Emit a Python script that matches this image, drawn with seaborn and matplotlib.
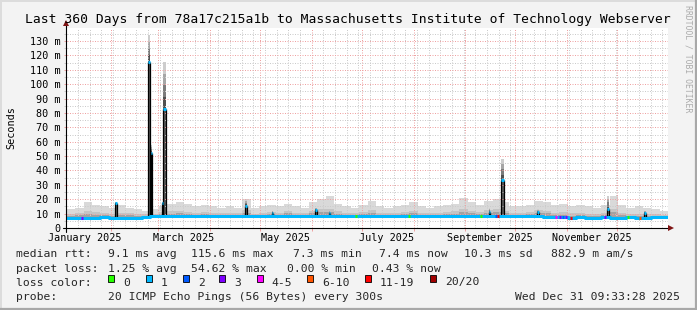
import numpy as np
import pandas as pd
import matplotlib
matplotlib.use("Agg")
import matplotlib.pyplot as plt
import matplotlib.dates as mdates
from matplotlib.ticker import MultipleLocator, FuncFormatter
from matplotlib.patches import Rectangle
from matplotlib.lines import Line2D
import seaborn as sns
from datetime import datetime

sns.set_style("white")
plt.rcParams["font.family"] = ["DejaVu Sans Mono", "DejaVu Sans"]

# ---------------- data ----------------
START = datetime(2025, 1, 5, 9, 33, 28)
END = datetime(2025, 12, 31, 9, 33, 28)
bin_start = pd.date_range(START, periods=72, freq="5D")

median_ms = [7.3, 7.2, 7.3, 7.3, 7.4, 7.3, 7.3, 7.2, 7.3, 7.4,
             8.0, 8.2, 8.1, 8.0, 8.1, 8.2, 8.1, 8.1, 8.0, 8.1,
             8.2, 8.1, 8.1, 8.2, 8.1, 8.0, 8.1, 8.1, 8.2, 8.1,
             8.1, 8.0, 8.1, 8.1, 8.2, 8.1, 8.1, 8.0, 8.1, 8.2,
             8.1, 8.1, 8.0, 8.1, 8.1, 8.2, 8.1, 8.1, 8.0, 8.1,
             8.1, 8.2, 8.1, 8.0, 8.1, 8.1, 8.0, 7.9, 7.5, 7.4,
             7.3, 7.4, 7.3, 7.3, 7.4, 7.3, 7.3, 7.4, 7.3, 7.3,
             7.4, 7.4]
smoke_lo = [6.9, 6.8, 6.9, 6.9, 7.0, 6.9, 6.9, 6.8, 6.9, 7.0,
            7.6, 7.7, 7.6, 7.6, 7.7, 7.7, 7.6, 7.6, 7.6, 7.6,
            7.7, 7.6, 7.6, 7.7, 7.6, 7.6, 7.6, 7.6, 7.7, 7.6,
            7.6, 7.6, 7.6, 7.6, 7.7, 7.6, 7.6, 7.6, 7.6, 7.7,
            7.6, 7.6, 7.6, 7.6, 7.6, 7.7, 7.6, 7.6, 7.6, 7.6,
            7.6, 7.7, 7.6, 7.6, 7.6, 7.6, 7.6, 7.5, 7.1, 7.0,
            6.9, 7.0, 6.9, 6.9, 7.0, 6.9, 6.9, 7.0, 6.9, 6.9,
            7.0, 7.0]
smoke_core = [8.6, 8.8, 9.4, 9.0, 8.8, 8.6, 9.0, 8.8, 8.5, 8.4,
              9.0, 9.4, 9.8, 10.2, 9.6, 9.2, 9.4, 9.2, 9.0, 9.2,
              9.0, 10.6, 8.9, 9.2, 9.6, 9.2, 10.4, 9.2, 9.0, 10.2,
              11.0, 11.4, 9.8, 9.2, 9.0, 9.6, 10.6, 9.2, 9.0, 9.2,
              9.6, 10.2, 9.2, 9.0, 9.2, 9.6, 9.8, 11.0, 10.2, 9.6,
              10.6, 11.0, 10.2, 9.2, 9.2, 9.6, 10.6, 10.2, 8.8, 9.2,
              8.6, 8.8, 8.5, 8.4, 8.8, 11.0, 8.8, 8.3, 8.5, 8.4,
              8.2, 8.1]
smoke_mid = [9.8, 10.2, 11.5, 10.8, 10.4, 10.0, 10.6, 10.2, 9.6, 9.4,
             10.0, 10.8, 11.6, 12.0, 11.4, 10.6, 11.0, 10.6, 10.2, 10.6,
             10.2, 12.5, 10.0, 10.6, 11.0, 10.6, 12.0, 10.6, 10.2, 12.0,
             13.0, 13.5, 11.6, 10.6, 10.2, 11.0, 12.5, 10.6, 10.2, 10.6,
             11.0, 12.0, 10.6, 10.2, 10.6, 11.0, 11.5, 13.0, 12.0, 11.0,
             12.5, 13.0, 12.0, 10.6, 10.6, 11.0, 12.5, 12.0, 10.6, 11.2,
             10.2, 10.6, 10.0, 9.8, 10.6, 13.0, 10.6, 9.6, 10.0, 9.8,
             9.4, 9.2]
smoke_hi = [13, 14, 18, 16, 15, 14, 16, 14, 13, 12,
            13, 15, 17, 18, 17, 15, 16, 15, 14, 15,
            14, 20, 14, 15, 16, 15, 17, 15, 14, 18,
            20, 22, 17, 15, 14, 16, 19, 15, 14, 15,
            16, 18, 15, 14, 15, 16, 17, 21, 18, 16,
            19, 20, 18, 15, 15, 16, 19, 18, 16, 17,
            15, 16, 15, 14, 16, 22, 16, 14, 15, 14,
            13, 12]

spike_time = ["2025-02-03 18:00", "2025-02-23 12:00", "2025-02-25 00:00",
              "2025-03-03 12:00", "2025-03-04 19:00", "2025-04-22 12:00",
              "2025-05-08 12:00", "2025-06-03 12:00", "2025-06-11 12:00",
              "2025-09-15 12:00", "2025-09-23 06:00", "2025-10-14 12:00",
              "2025-11-25 12:00", "2025-12-17 12:00"]
spike_width_h = [26, 40, 22, 14, 32, 26, 22, 22, 22, 22, 32, 22, 26, 22]
spike_median = [17.2, 115.6, 52.0, 17.4, 82.7, 15.3, 10.6, 12.5, 10.3,
                11.2, 33.4, 11.0, 13.5, 10.4]
spike_top = [18.0, 134.0, 58.0, 18.0, 115.6, 20.0, 12.0, 14.0, 12.0,
             14.0, 48.0, 13.0, 22.0, 12.0]

loss_time = ["2025-01-14 04:00", "2025-06-27 12:00", "2025-07-29 12:00",
             "2025-09-10 12:00", "2025-09-19 12:00", "2025-09-20 12:00",
             "2025-10-25 12:00", "2025-10-27 12:00", "2025-10-29 12:00",
             "2025-10-31 12:00", "2025-11-03 00:00", "2025-11-23 12:00",
             "2025-12-07 12:00", "2025-12-14 12:00"]
loss_class = [3, 0, 0, 0, 2, 6, 4, 3, 2, 3, 6, 3, 0, 5]

loss_labels = ["0", "1", "2", "3", "4-5", "6-10", "11-19", "20/20"]
loss_colors = ["#26ff00", "#00b8ff", "#0059ff", "#7e00ff", "#ff00ff",
               "#ff5500", "#ff0000", "#a00000"]

month_labels = ["January 2025", "March 2025", "May 2025", "July 2025",
                "September 2025", "November 2025"]
month_label_at = ["2025-01-16", "2025-03-16", "2025-05-16", "2025-07-16",
                  "2025-09-16", "2025-11-16"]

title = "Last 360 Days from 78a17c215a1b to Massachusetts Institute of Technology Webserver"
rtt_parts = [("median rtt:", 15.6), ("9.1 ms avg", 107.6), ("115.6 ms max", 191.1),
             ("7.3 ms min", 293.4), ("7.4 ms now", 378.7), ("10.3 ms sd", 464.5),
             ("882.9 m am/s", 551.2)]
loss_parts = [("packet loss:", 15.6), ("1.25 % avg", 107.6), ("54.62 % max", 191.1),
              ("0.00 % min", 286.7), ("0.43 % now", 372.5)]
probe_text = "20 ICMP Echo Pings (56 Bytes) every 300s"
stamp_text = "Wed Dec 31 09:33:28 2025"

# ---------------- figure ----------------
W, H = 697, 310
fig = plt.figure(figsize=(W / 100, H / 100), dpi=100)
fig.patch.set_facecolor("#f3f3f3")

L, R, T, B = 67, 668, 28, 228
ax = fig.add_axes([L / W, (H - B) / H, (R - L) / W, (B - T) / H])
ax.set_facecolor("white")

def fx(px):
    return px / W

def fy(py):
    return (H - py) / H

edges = list(bin_start) + [pd.Timestamp(END)]
x_edges = mdates.date2num(edges)

def ext(v):
    return list(v) + [v[-1]]

# smoke
ax.fill_between(x_edges, ext(smoke_lo), ext(smoke_hi), step="post",
                color="#d9d9d9", lw=0, zorder=1)
ax.fill_between(x_edges, ext(smoke_lo), ext(smoke_mid), step="post",
                color="#c4c4c4", lw=0, zorder=1.1)
ax.fill_between(x_edges, ext(smoke_lo), ext(smoke_core), step="post",
                color="#a2a2a2", lw=0, zorder=1.2)

# spikes
st = mdates.date2num(pd.to_datetime(spike_time))
sw = np.array(spike_width_h) / 24.0
shades = ["#505050", "#7c7c7c", "#a6a6a6", "#cdcdcd"]
for t, w, m, top, ts in zip(st, sw, spike_median, spike_top, spike_time):
    idx = int((pd.Timestamp(ts) - pd.Timestamp(START)).days // 5)
    base = median_ms[min(idx, 71)]
    ax.bar(t, m - base, width=w, bottom=base, color="#5a5a5a", lw=0, zorder=1.3)
    seg = (top - m) / len(shades)
    for k, c in enumerate(shades):
        ax.bar(t, seg, width=w, bottom=m + k * seg, color=c, lw=0, zorder=1.3)
    ax.vlines([t - w / 2, t + w / 2], base, m, colors="black", lw=0.9, zorder=3)

# median line
df = pd.DataFrame({"t": edges, "median": ext(median_ms)})
sns.lineplot(data=df, x="t", y="median", drawstyle="steps-post", estimator=None,
             color=loss_colors[1], lw=2.2, ax=ax, zorder=3)
for t, w, m in zip(st, sw, spike_median):
    ax.hlines(m, t - w / 2, t + w / 2, colors=loss_colors[1], lw=2.2, zorder=3.5)

lt = mdates.date2num(pd.to_datetime(loss_time))
for t, c, ts in zip(lt, loss_class, loss_time):
    idx = int((pd.Timestamp(ts) - pd.Timestamp(START)).days // 5)
    ax.hlines(median_ms[min(idx, 71)], t - 0.6, t + 0.6, colors=loss_colors[c],
              lw=2.2, zorder=3.6)

# axes limits / grid
ax.set_xlim(mdates.date2num(START), mdates.date2num(END))
ax.set_ylim(0, 139.1)
ax.set_xlabel("")
ax.set_ylabel("")

ax.yaxis.set_major_locator(MultipleLocator(10))
ax.yaxis.set_minor_locator(MultipleLocator(5))
ax.yaxis.set_major_formatter(FuncFormatter(lambda v, p: "0" if v == 0 else f"{int(round(v))} m"))
ax.xaxis.set_major_locator(mdates.MonthLocator())
ax.xaxis.set_minor_locator(mdates.WeekdayLocator(byweekday=mdates.SU))
ax.xaxis.set_major_formatter(plt.NullFormatter())

red = "#efa2a2"
gray = "#cbcbcb"
ax.grid(which="major", color=red, lw=0.72, linestyle=(0, (1, 1.5)))
ax.grid(which="minor", color=gray, lw=0.72, linestyle=(0, (1, 1.5)))
ax.set_axisbelow(False)
for gl in ax.get_xgridlines() + ax.get_ygridlines():
    gl.set_zorder(2)

ax.tick_params(axis="y", which="major", length=2.2, width=0.72, color=red,
               labelsize=7.3, pad=2.5, labelcolor="black", left=True)
ax.tick_params(axis="y", which="minor", length=2.2, width=0.72, color=gray, left=True)
ax.tick_params(axis="x", which="major", length=2.2, width=0.72, color=red, bottom=True)
ax.tick_params(axis="x", which="minor", length=0)
for s in ax.spines.values():
    s.set_visible(False)

# axes lines with arrows
axis_col = "#7f1414"
fig.add_artist(Line2D([fx(63), fx(670)], [fy(228), fy(228)], color="black", lw=0.8))
fig.add_artist(Line2D([fx(66), fx(66)], [fy(232), fy(24)], color="black", lw=0.8))
fig.add_artist(Line2D([fx(671)], [fy(228)], marker=">", markersize=4.5,
                      color=axis_col, markeredgewidth=0))
fig.add_artist(Line2D([fx(66)], [fy(23)], marker="^", markersize=4.5,
                      color=axis_col, markeredgewidth=0))

# x labels
for lab, d in zip(month_labels, month_label_at):
    ax.text(mdates.date2num(pd.Timestamp(d)), (B - 237.8) / (B - T), lab,
            transform=ax.get_xaxis_transform(), ha="center", va="center",
            fontsize=7.3, color="black")

# texts
fig.text(fx(348), fy(19), title, ha="center", va="center", fontsize=9.4, color="black")
fig.text(fx(11), fy(128), "Seconds", rotation=90, ha="center", va="center",
         fontsize=7.3, color="black")
fig.text(fx(688), fy(5), "RRDTOOL / TOBI OETIKER", rotation=270, ha="center",
         va="top", fontsize=5.9, color="#ababab")

fs = 8.2
for txt, x in rtt_parts:
    fig.text(fx(x), fy(254.3), txt, ha="left", va="center", fontsize=fs)
for txt, x in loss_parts:
    fig.text(fx(x), fy(268.5), txt, ha="left", va="center", fontsize=fs)
fig.text(fx(15.6), fy(282.5), "loss color:", ha="left", va="center", fontsize=fs)
box_x = [108.3, 145.7, 182.7, 219.3, 256.7, 307.3, 365.0, 430.0]
for bx, c, lab in zip(box_x, loss_colors, loss_labels):
    fig.add_artist(Rectangle((fx(bx), fy(281.5)), 6 / W, 7 / H, facecolor=c,
                             edgecolor="black", lw=0.6))
    fig.text(fx(bx + 15), fy(282.5), lab, ha="left", va="center", fontsize=fs)
fig.text(fx(15.6), fy(296.5), "probe:", ha="left", va="center", fontsize=fs)
fig.text(fx(107.6), fy(296.5), probe_text, ha="left", va="center", fontsize=fs)
fig.text(fx(680), fy(296.5), stamp_text, ha="right", va="center", fontsize=fs)

# frame
fig.add_artist(Line2D([0, 1], [fy(0.5), fy(0.5)], color="#dcdcdc", lw=1.4))
fig.add_artist(Line2D([fx(0.5), fx(0.5)], [0, 1], color="#dcdcdc", lw=1.4))
fig.add_artist(Line2D([0, 1], [fy(309), fy(309)], color="#a8a8a8", lw=1.6))
fig.add_artist(Line2D([fx(696), fx(696)], [0, 1], color="#a8a8a8", lw=1.6))

fig.savefig("out.png", dpi=100, facecolor=fig.get_facecolor())
